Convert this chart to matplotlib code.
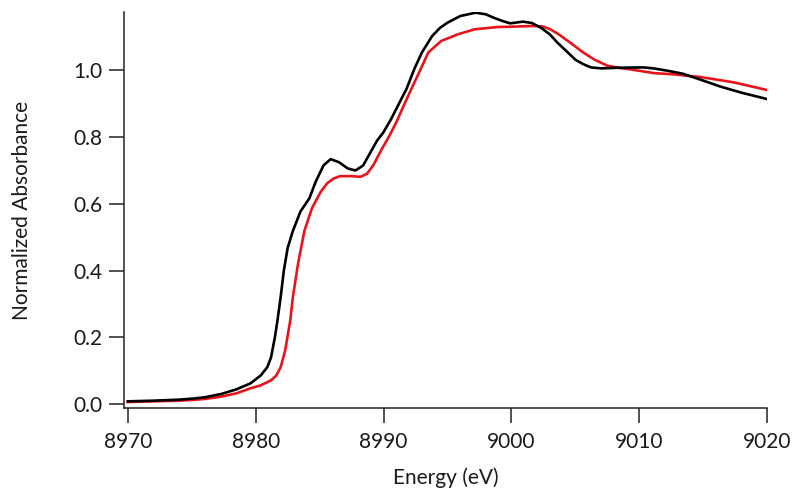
import matplotlib

matplotlib.use("Agg")
import matplotlib.pyplot as plt  # noqa: E402

# Values (energy in eV, normalized absorbance)
black_e = [8970.0, 8972.0, 8974.0, 8975.0, 8976.0, 8977.3, 8978.5, 8979.6, 8980.4,
           8980.9, 8981.2, 8981.5, 8981.7, 8981.95, 8982.2, 8982.5, 8982.9, 8983.5,
           8984.2, 8984.7, 8985.3, 8985.86, 8986.5, 8987.2, 8987.8, 8988.4, 8989.0,
           8989.5, 8990.0, 8990.6, 8991.2, 8991.8, 8992.4, 8993.0, 8993.8, 8994.4,
           8995.0, 8996.0, 8997.2, 8998.0, 8998.6, 8999.3, 8999.9, 9000.9, 9001.6,
           9002.3, 9003.0, 9003.6, 9004.4, 9005.0, 9005.6, 9006.2, 9007.0, 9008.5,
           9010.3, 9011.1, 9012.2, 9013.4, 9014.8, 9016.3, 9018.0, 9020.0]
black_a = [0.008, 0.010, 0.013, 0.016, 0.020, 0.030, 0.044, 0.062, 0.086,
           0.110, 0.140, 0.200, 0.250, 0.320, 0.400, 0.468, 0.518, 0.577,
           0.617, 0.667, 0.715, 0.734, 0.725, 0.706, 0.700, 0.715, 0.756,
           0.790, 0.815, 0.855, 0.900, 0.945, 1.004, 1.054, 1.103, 1.127,
           1.143, 1.163, 1.173, 1.168, 1.158, 1.148, 1.141, 1.146, 1.142,
           1.128, 1.108, 1.083, 1.054, 1.032, 1.019, 1.009, 1.006, 1.008,
           1.009, 1.006, 0.999, 0.990, 0.972, 0.952, 0.933, 0.914]

red_e = [8970.0, 8972.0, 8974.0, 8975.0, 8976.0, 8977.3, 8978.5, 8979.6, 8980.4,
         8981.2, 8981.6, 8981.95, 8982.3, 8982.7, 8982.9, 8983.3, 8983.8, 8984.4,
         8985.1, 8985.6, 8986.1, 8986.6, 8987.5, 8988.2, 8988.7, 8989.2, 8989.8,
         8990.4, 8991.0, 8991.7, 8992.3, 8992.9, 8993.5, 8994.5, 8995.8, 8997.1,
         8998.9, 9000.0, 9001.5, 9002.4, 9003.0, 9003.7, 9004.6, 9005.6, 9006.5,
         9007.5, 9008.5, 9009.3, 9011.1, 9012.7, 9014.8, 9017.4, 9020.0]
red_a = [0.006, 0.008, 0.010, 0.012, 0.015, 0.022, 0.032, 0.047, 0.056,
         0.071, 0.085, 0.110, 0.160, 0.250, 0.319, 0.418, 0.518, 0.587,
         0.637, 0.662, 0.676, 0.683, 0.683, 0.681, 0.690, 0.716, 0.760,
         0.800, 0.845, 0.905, 0.955, 1.004, 1.054, 1.088, 1.108, 1.123,
         1.130, 1.131, 1.133, 1.132, 1.124, 1.108, 1.083, 1.054, 1.032,
         1.014, 1.007, 1.003, 0.992, 0.988, 0.980, 0.964, 0.941]

x_ticks = [8970, 8980, 8990, 9000, 9010, 9020]
y_ticks = [0.0, 0.2, 0.4, 0.6, 0.8, 1.0]

plt.rcParams["font.family"] = ["Lato", "DejaVu Sans"]
TXT = "#1a1a1a"

fig = plt.figure(figsize=(8, 5), dpi=100)
ax = fig.add_axes([0.155, 0.184, 0.804, 0.792])

ax.plot(red_e, red_a, color="#e8141c", linewidth=1.9)
ax.plot(black_e, black_a, color="black", linewidth=1.9)

ax.set_xlim(8969.7, 9020)
ax.set_ylim(-0.012, 1.175)
ax.set_xticks(x_ticks)
ax.set_yticks(y_ticks)
ax.set_yticklabels([f"{v:.1f}" for v in y_ticks])

for side in ("top", "right"):
    ax.spines[side].set_visible(False)
for side in ("left", "bottom"):
    ax.spines[side].set_linewidth(1.1)
    ax.spines[side].set_color("#222222")

ax.tick_params(axis="both", direction="out", length=10.5, width=1.1,
               labelsize=15, colors="#222222", labelcolor=TXT)
ax.tick_params(axis="y", pad=5)
ax.tick_params(axis="x", pad=7)

ax.set_xlabel("Energy (eV)", fontsize=15, color=TXT)
ax.set_ylabel("Normalized Absorbance", fontsize=15, color=TXT)
ax.xaxis.set_label_coords(0.5, -0.15)
ax.yaxis.set_label_coords(-0.143, 0.5)

fig.savefig("out.png", dpi=100)
